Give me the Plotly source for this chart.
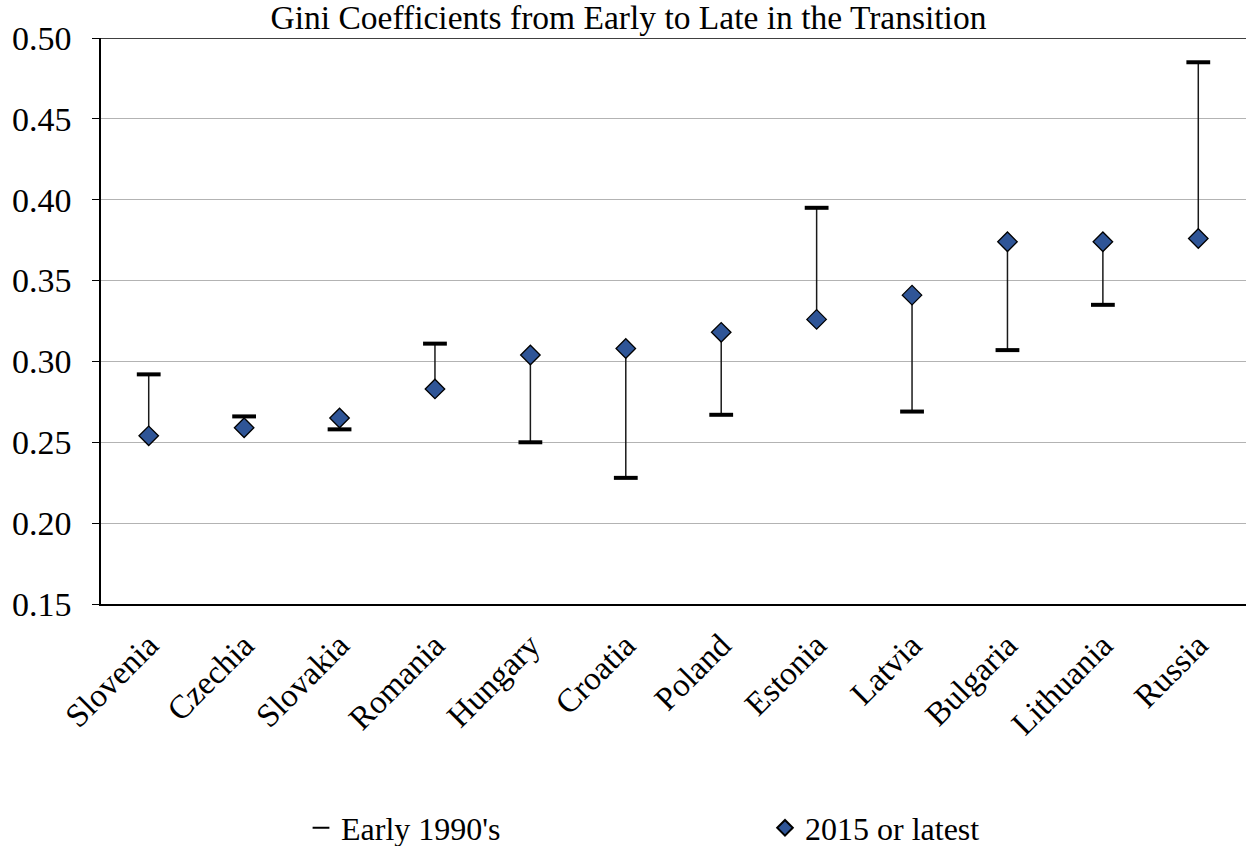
import plotly.graph_objects as go

# Gini coefficients by country
countries = ["Slovenia", "Czechia", "Slovakia", "Romania", "Hungary", "Croatia",
             "Poland", "Estonia", "Latvia", "Bulgaria", "Lithuania", "Russia"]
early_1990s = [0.292, 0.266, 0.258, 0.311, 0.250, 0.228,
               0.267, 0.395, 0.269, 0.307, 0.335, 0.485]
latest_2015 = [0.254, 0.259, 0.265, 0.283, 0.304, 0.308,
               0.318, 0.326, 0.341, 0.374, 0.374, 0.376]

y_ticks = [0.15, 0.20, 0.25, 0.30, 0.35, 0.40, 0.45, 0.50]

FONT = "Liberation Serif"
W, H = 1246, 846
L, R, T, B = 101, 0, 38, 242
PW = W - L - R
PH = H - T - B


def px_x(px):
    return (px - L) / PW


def px_y(py):
    return (H - B - py) / PH


# connector segments: early value -> latest value for each country
seg_x, seg_y = [], []
for c, a, b in zip(countries, early_1990s, latest_2015):
    seg_x += [c, c, None]
    seg_y += [a, b, None]

fig = go.Figure()
fig.add_trace(go.Scatter(
    x=seg_x, y=seg_y, mode="lines",
    line=dict(color="#1a1a1a", width=1.5),
    showlegend=False, hoverinfo="skip",
))
fig.add_trace(go.Scatter(
    x=countries, y=early_1990s, mode="markers", name="Early 1990's",
    marker=dict(symbol="line-ew", size=17, color="black",
                line=dict(color="black", width=4)),
    legend="legend",
))
fig.add_trace(go.Scatter(
    x=countries, y=latest_2015, mode="markers", name="2015 or latest",
    marker=dict(symbol="diamond", size=15, color="#2F5597",
                line=dict(color="black", width=1.3)),
    legend="legend2",
))

legend_style = dict(font=dict(family=FONT, size=32, color="black"),
                    bgcolor="rgba(0,0,0,0)", yanchor="middle", xanchor="left",
                    itemsizing="constant")

fig.update_layout(
    width=W, height=H,
    margin=dict(l=L, r=R, t=T, b=B, autoexpand=False),
    paper_bgcolor="white", plot_bgcolor="white",
    font=dict(family=FONT, color="black", size=32),
    title=dict(text="Gini Coefficients from Early to Late in the Transition",
               font=dict(family=FONT, size=33.5, color="black"),
               x=628.5 / W, xref="container", xanchor="center",
               y=1 - 17 / H, yref="container", yanchor="middle"),
    showlegend=True,
    legend=dict(x=px_x(301), y=px_y(828), **legend_style),
    legend2=dict(x=px_x(765), y=px_y(828), **legend_style),
    shapes=[dict(type="line", xref="paper", yref="y", x0=0, x1=1, y0=0.50, y1=0.50,
                 line=dict(color="black", width=1.5), layer="above")],
)

fig.update_xaxes(
    type="category", range=[-0.5, len(countries) - 0.5], automargin=False,
    tickangle=-45, showgrid=False, showline=True, linecolor="black", linewidth=1.5,
    ticks="", ticklabelstandoff=7,
    tickfont=dict(family=FONT, size=33, color="black"),
)
fig.update_yaxes(
    range=[0.15, 0.50], tickvals=y_ticks, ticktext=[f"{v:.2f}" for v in y_ticks],
    automargin=False,
    showgrid=True, gridcolor="#B3B3B3", gridwidth=1.3,
    showline=True, linecolor="black", linewidth=1.5,
    ticks="outside", ticklen=7, tickcolor="black", tickwidth=1.3,
    ticklabelstandoff=14,
    tickfont=dict(family=FONT, size=34, color="black"), zeroline=False,
)

fig.write_html("out.html")
